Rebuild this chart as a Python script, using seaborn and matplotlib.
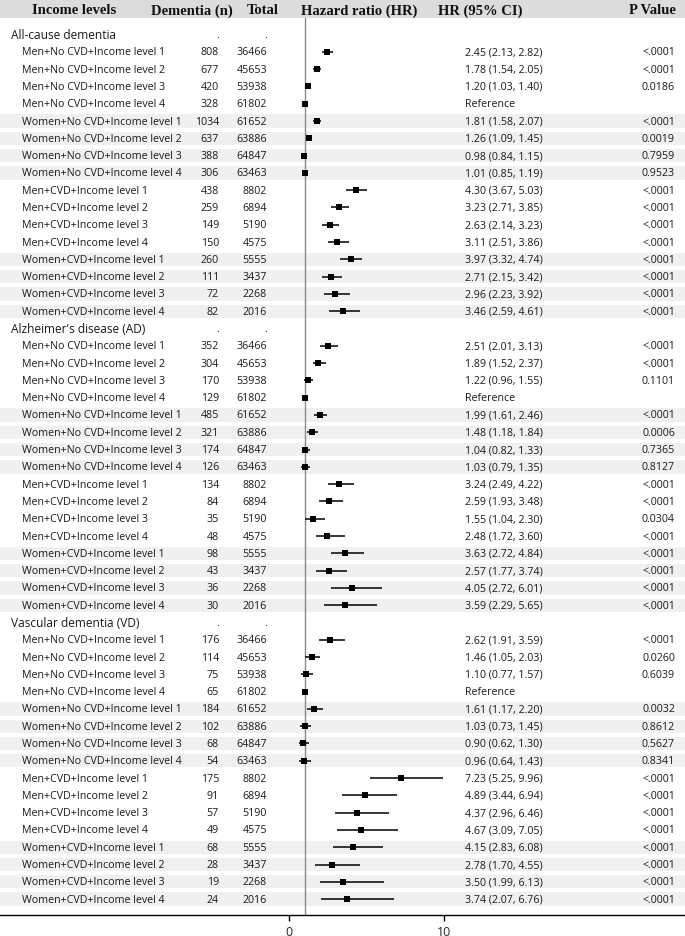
import matplotlib
matplotlib.use("Agg")
import matplotlib.pyplot as plt
import matplotlib.transforms as mtransforms
import seaborn as sns
import pandas as pd

# ---------------- data ----------------
sections = ["All-cause dementia", "Alzheimer's disease (AD)", "Vascular dementia (VD)"]
groups = [
    "Men+No CVD+Income level 1", "Men+No CVD+Income level 2",
    "Men+No CVD+Income level 3", "Men+No CVD+Income level 4",
    "Women+No CVD+Income level 1", "Women+No CVD+Income level 2",
    "Women+No CVD+Income level 3", "Women+No CVD+Income level 4",
    "Men+CVD+Income level 1", "Men+CVD+Income level 2",
    "Men+CVD+Income level 3", "Men+CVD+Income level 4",
    "Women+CVD+Income level 1", "Women+CVD+Income level 2",
    "Women+CVD+Income level 3", "Women+CVD+Income level 4",
]
totals = [36466, 45653, 53938, 61802, 61652, 63886, 64847, 63463,
          8802, 6894, 5190, 4575, 5555, 3437, 2268, 2016]
reference_index = 3

cases_all = [808, 677, 420, 328, 1034, 637, 388, 306, 438, 259, 149, 150, 260, 111, 72, 82]
hr_all = [2.45, 1.78, 1.20, 1.00, 1.81, 1.26, 0.98, 1.01, 4.30, 3.23, 2.63, 3.11, 3.97, 2.71, 2.96, 3.46]
lo_all = [2.13, 1.54, 1.03, 1.00, 1.58, 1.09, 0.84, 0.85, 3.67, 2.71, 2.14, 2.51, 3.32, 2.15, 2.23, 2.59]
hi_all = [2.82, 2.05, 1.40, 1.00, 2.07, 1.45, 1.15, 1.19, 5.03, 3.85, 3.23, 3.86, 4.74, 3.42, 3.92, 4.61]
p_all = ["<.0001", "<.0001", "0.0186", "", "<.0001", "0.0019", "0.7959", "0.9523",
         "<.0001", "<.0001", "<.0001", "<.0001", "<.0001", "<.0001", "<.0001", "<.0001"]

cases_ad = [352, 304, 170, 129, 485, 321, 174, 126, 134, 84, 35, 48, 98, 43, 36, 30]
hr_ad = [2.51, 1.89, 1.22, 1.00, 1.99, 1.48, 1.04, 1.03, 3.24, 2.59, 1.55, 2.48, 3.63, 2.57, 4.05, 3.59]
lo_ad = [2.01, 1.52, 0.96, 1.00, 1.61, 1.18, 0.82, 0.79, 2.49, 1.93, 1.04, 1.72, 2.72, 1.77, 2.72, 2.29]
hi_ad = [3.13, 2.37, 1.55, 1.00, 2.46, 1.84, 1.33, 1.35, 4.22, 3.48, 2.30, 3.60, 4.84, 3.74, 6.01, 5.65]
p_ad = ["<.0001", "<.0001", "0.1101", "", "<.0001", "0.0006", "0.7365", "0.8127",
        "<.0001", "<.0001", "0.0304", "<.0001", "<.0001", "<.0001", "<.0001", "<.0001"]

cases_vd = [176, 114, 75, 65, 184, 102, 68, 54, 175, 91, 57, 49, 68, 28, 19, 24]
hr_vd = [2.62, 1.46, 1.10, 1.00, 1.61, 1.03, 0.90, 0.96, 7.23, 4.89, 4.37, 4.67, 4.15, 2.78, 3.50, 3.74]
lo_vd = [1.91, 1.05, 0.77, 1.00, 1.17, 0.73, 0.62, 0.64, 5.25, 3.44, 2.96, 3.09, 2.83, 1.70, 1.99, 2.07]
hi_vd = [3.59, 2.03, 1.57, 1.00, 2.20, 1.45, 1.30, 1.43, 9.96, 6.94, 6.46, 7.05, 6.08, 4.55, 6.13, 6.76]
p_vd = ["<.0001", "0.0260", "0.6039", "", "0.0032", "0.8612", "0.5627", "0.8341",
        "<.0001", "<.0001", "<.0001", "<.0001", "<.0001", "<.0001", "<.0001", "<.0001"]

x_ticks = [0, 10]
columns = ["Income levels", "Dementia (n)", "Total", "Hazard ratio (HR)", "HR (95% CI)", "P Value"]

# ---------------- build table ----------------
blocks = [(cases_all, hr_all, lo_all, hi_all, p_all),
          (cases_ad, hr_ad, lo_ad, hi_ad, p_ad),
          (cases_vd, hr_vd, lo_vd, hi_vd, p_vd)]
recs = []
r = 0
for sec, (cs, hr, lo, hi, pv) in zip(sections, blocks):
    recs.append(dict(row=r, label=sec, header=True, n=".", total=".", hr=None,
                     lo=None, hi=None, ci="", p="", shaded=False))
    r += 1
    for i, g in enumerate(groups):
        if i == reference_index:
            ci = "Reference"
        else:
            ci = f"{hr[i]:.2f} ({lo[i]:.2f}, {hi[i]:.2f})"
        recs.append(dict(row=r, label=g, header=False, n=str(cs[i]), total=str(totals[i]),
                         hr=hr[i], lo=lo[i], hi=hi[i], ci=ci, p=pv[i],
                         shaded=g.startswith("Women")))
        r += 1
df = pd.DataFrame(recs)
pts = df[~df["header"]].copy()
pts["hr"] = pts["hr"].astype(float)

# ---------------- figure ----------------
sns.set_theme(style="white")
plt.rcParams["font.family"] = ["Open Sans", "DejaVu Sans"]

W, H = 685, 937
fig = plt.figure(figsize=(W / 100, H / 100), dpi=100)
ax_bottom_px = 916
ax = fig.add_axes([0, 1 - ax_bottom_px / H, 1, ax_bottom_px / H])

# pixel layout of the reference
x0_px, unit_px = 289.0, 15.5
row0_px, row_px = 35.6, 17.29

def ry(p):
    return (p - row0_px) / row_px

ax.set_xlim(-x0_px / unit_px, (W - x0_px) / unit_px)
ax.set_ylim(ry(ax_bottom_px), ry(0))

# header band and row bands
ax.axhspan(ry(0), ry(19), color="#dcdcdc", lw=0, zorder=0)
for _, rw in df[df["shaded"]].iterrows():
    ax.axhspan(rw["row"] - 0.385, rw["row"] + 0.385, color="#f0f0f0", lw=0, zorder=0)

# reference line at HR = 1
ax.plot([1, 1], [ry(19), ry(ax_bottom_px)], color="#8a8a8a", lw=1.0, zorder=1)

# CIs and points
ax.hlines(pts["row"], pts["lo"], pts["hi"], color="black", lw=1.1, zorder=2)
sns.scatterplot(data=pts, x="hr", y="row", marker="s", s=24, color="black",
                edgecolor="black", linewidth=0, legend=False, ax=ax, zorder=3)

ax.set_xlim(-x0_px / unit_px, (W - x0_px) / unit_px)
ax.set_ylim(ry(ax_bottom_px), ry(0))
ax.set_xlabel("")
ax.set_ylabel("")
ax.set_yticks([])
ax.set_xticks(x_ticks)
ax.set_xticklabels([str(t) for t in x_ticks])
for s in ["left", "right", "top"]:
    ax.spines[s].set_visible(False)
ax.spines["bottom"].set_color("black")
ax.spines["bottom"].set_linewidth(1.0)
ax.tick_params(axis="x", direction="out", length=4, width=1, color="black",
               labelsize=9, pad=3, bottom=True)

# text
tr = mtransforms.blended_transform_factory(ax.transAxes, ax.transData)
def tx(xpx, y, s, ha="left", **kw):
    ax.text(xpx / W, y, s, ha=ha, va="center", transform=tr, **kw)

hy = ry(11)
hdr = dict(family=["Liberation Serif"], fontweight="bold", fontsize=10.5, color="#111111")
tx(74, hy, columns[0], ha="center", **hdr)
tx(192, hy, columns[1], ha="center", **hdr)
tx(263, hy, columns[2], ha="center", **hdr)
tx(359, hy, columns[3], ha="center", **hdr)
tx(480, hy, columns[4], ha="center", **hdr)
tx(676, hy, columns[5], ha="right", **hdr)

body = dict(fontsize=7.7, color="#1a1a1a")
for _, rw in df.iterrows():
    y = rw["row"]
    if rw["header"]:
        tx(11, y, rw["label"], fontsize=8.6, color="#1a1a1a")
    else:
        tx(22, y, rw["label"], **body)
    tx(219, y, rw["n"], ha="right", **body)
    tx(267, y, rw["total"], ha="right", **body)
    if rw["ci"]:
        tx(465, y, rw["ci"], **body)
    if rw["p"]:
        tx(675, y, rw["p"], ha="right", **body)

fig.savefig("out.png", dpi=100)
